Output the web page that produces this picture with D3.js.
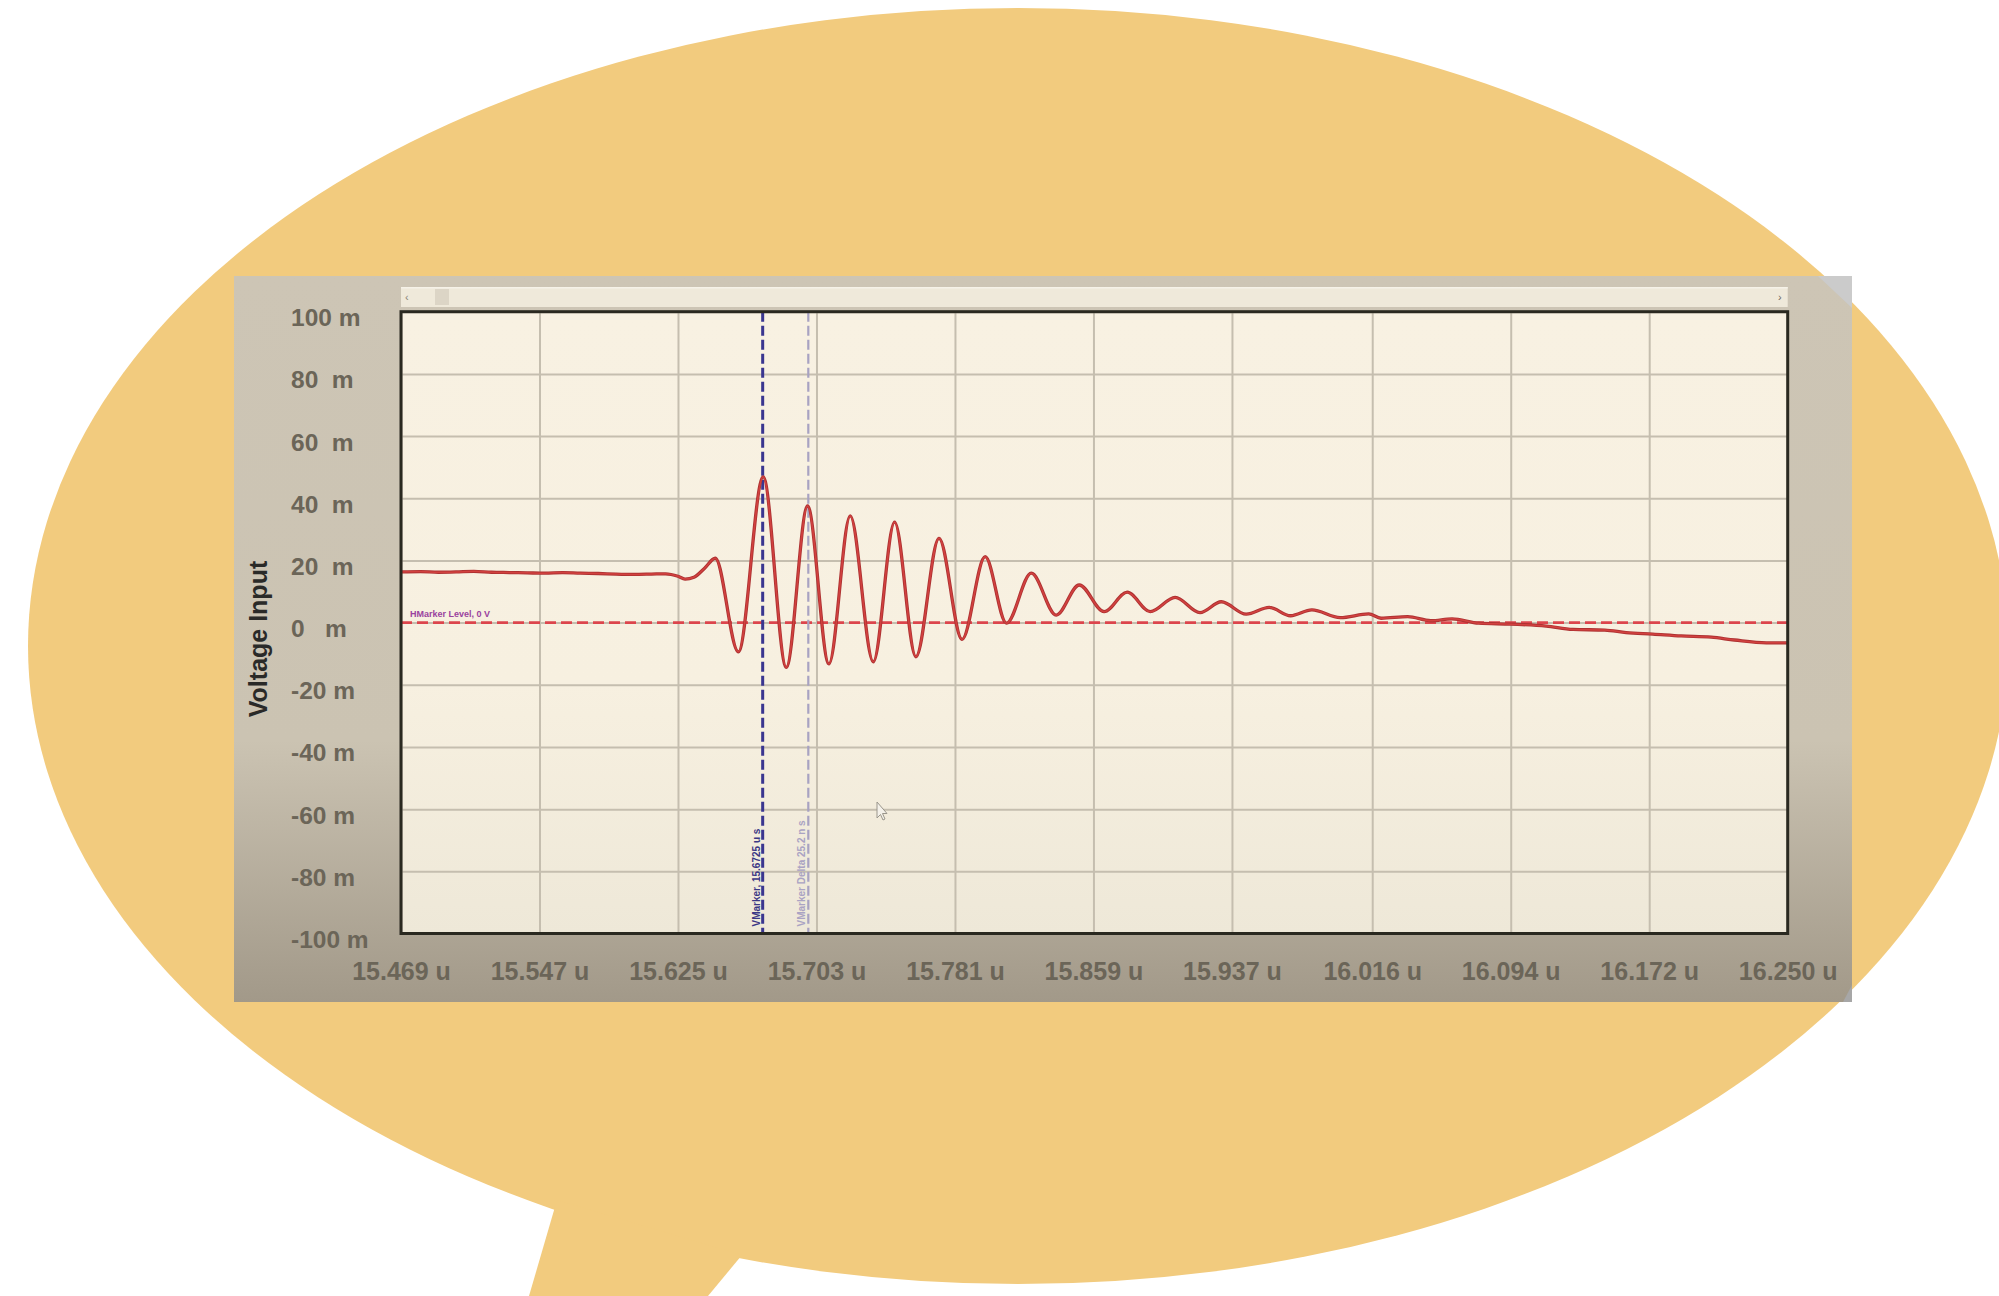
<!DOCTYPE html>
<html><head><meta charset="utf-8">
<script src="https://cdn.jsdelivr.net/npm/d3@7"></script>
<style>
html,body{margin:0;padding:0;background:#fff;}
svg{display:block;}
text{font-family:"Liberation Sans",Arial,sans-serif;}
</style></head>
<body>
<svg id="chart" width="1999" height="1296"></svg>
<script>
// ---------- data ----------
const xTicks = [15.469, 15.547, 15.625, 15.703, 15.781, 15.859, 15.937, 16.016, 16.094, 16.172, 16.250];
const xTickLabels = ["15.469 u","15.547 u","15.625 u","15.703 u","15.781 u","15.859 u","15.937 u","16.016 u","16.094 u","16.172 u","16.250 u"];
const yTicks = [100, 80, 60, 40, 20, 0, -20, -40, -60, -80, -100];
const yTickLabels = ["100 m","80  m","60  m","40  m","20  m","0   m","-20 m","-40 m","-60 m","-80 m","-100 m"];
const yAxisTitle = "Voltage Input";
// time (u s) and voltage (m V) of the trace
const timeU = [15.469,15.480,15.490,15.500,15.510,15.520,15.530,15.540,15.550,15.560,15.570,15.580,15.590,15.600,15.610,15.618,15.625,15.629,15.634,15.640,
  15.646,15.659,15.673,15.686,15.698,15.710,15.722,15.735,15.747,15.759,15.772,15.785,15.798,15.810,15.824,15.838,15.851,15.865,15.878,15.891,
  15.905,15.919,15.931,15.945,15.958,15.970,15.982,15.998,16.014,16.021,16.036,16.049,16.061,16.076,16.094,16.114,16.129,16.147,16.159,16.174,
  16.190,16.207,16.220,16.238,16.250];
const voltM = [16.3,16.4,16.2,16.3,16.5,16.2,16.1,16.0,15.9,16.1,15.9,15.8,15.6,15.5,15.6,15.7,14.9,14.0,14.6,17.5,
  20.7,-9.4,46.9,-14.4,37.5,-13.3,34.3,-12.6,32.3,-11.0,27.1,-5.4,21.2,-0.2,15.9,2.4,12.1,3.5,9.8,3.5,
  8.1,3.2,6.7,2.7,4.9,2.2,4.1,1.6,2.8,1.4,1.9,0.6,1.2,-0.2,-0.5,-1.1,-2.2,-2.4,-3.2,-3.7,
  -4.3,-4.7,-5.6,-6.5,-6.5];
const vMarkers = [15.6727, 15.6984];
const vMarkerLabels = ["VMarker, 15.6725 u s", "VMarker Delta 25.2 n s"];
const hMarkerLevel = 0;
const hMarkerLabel = "HMarker Level, 0 V";

// ---------- layout ----------
const svg = d3.select("#chart");
const P = {l:401, t:311.7, r:1787.7, b:933.5};
const x = d3.scaleLinear().domain([xTicks[0], xTicks[xTicks.length-1]]).range([P.l, P.r]);
const y = d3.scaleLinear().domain([-100, 100]).range([P.b, P.t]);

const defs = svg.append("defs");
const pg = defs.append("linearGradient").attr("id","panelGrad").attr("x1",0).attr("y1",0).attr("x2",0).attr("y2",1);
pg.append("stop").attr("offset","0").attr("stop-color","#cdc5b5");
pg.append("stop").attr("offset","0.64").attr("stop-color","#cbc3b2");
pg.append("stop").attr("offset","1").attr("stop-color","#a29989");
const bg = defs.append("linearGradient").attr("id","plotGrad").attr("x1",0).attr("y1",0).attr("x2",0).attr("y2",1);
bg.append("stop").attr("offset","0").attr("stop-color","#f8f1e2");
bg.append("stop").attr("offset","0.6").attr("stop-color","#f7f0e0");
bg.append("stop").attr("offset","1").attr("stop-color","#eee8d8");

// speech bubble
svg.append("ellipse").attr("cx",1018).attr("cy",646).attr("rx",990).attr("ry",638).attr("fill","#f2cb7e");
svg.append("path").attr("d","M557,1200 L529,1296 L708,1296 L742,1255 Z").attr("fill","#f2cb7e");

// panel
svg.append("rect").attr("x",234).attr("y",276).attr("width",1618).attr("height",726).attr("fill","url(#panelGrad)");
svg.append("path").attr("d","M1818,276 L1852,276 L1852,308 Z").attr("fill","#cbcbcb");
svg.append("path").attr("d","M1852,985 L1852,1002 L1843,1002 Z").attr("fill","#a7a7a7");

// scrollbar
svg.append("rect").attr("x",P.l).attr("y",287).attr("width",P.r-P.l).attr("height",20).attr("fill","#efe9da");
svg.append("rect").attr("x",P.l).attr("y",287).attr("width",P.r-P.l).attr("height",1.5).attr("fill","#f6f2e8");
svg.append("rect").attr("x",435).attr("y",289).attr("width",14).attr("height",16).attr("fill","#dcd5c6");
svg.append("text").attr("x",405).attr("y",301).attr("font-size",11).attr("fill","#8a8478").text("‹");
svg.append("text").attr("x",1778).attr("y",301).attr("font-size",11).attr("fill","#6e685c").text("›");

// plot background
svg.append("rect").attr("x",P.l).attr("y",P.t).attr("width",P.r-P.l).attr("height",P.b-P.t).attr("fill","url(#plotGrad)");

// grid
const grid = svg.append("g");
grid.append("g").attr("transform",`translate(0,${P.b})`)
  .call(d3.axisBottom(x).tickValues(xTicks).tickSize(-(P.b-P.t)).tickFormat(""))
  .call(g=>{g.select(".domain").remove(); g.selectAll("line").attr("stroke","#c5beaf").attr("stroke-width",2);});
grid.append("g").attr("transform",`translate(${P.l},0)`)
  .call(d3.axisLeft(y).tickValues(yTicks).tickSize(-(P.r-P.l)).tickFormat(""))
  .call(g=>{g.select(".domain").remove(); g.selectAll("line").attr("stroke","#c5beaf").attr("stroke-width",2);});

// x labels
const xa = svg.append("g").attr("transform",`translate(0,${P.b})`)
  .call(d3.axisBottom(x).tickValues(xTicks).tickSize(0).tickPadding(0).tickFormat((d,i)=>xTickLabels[i]));
xa.select(".domain").remove();
xa.selectAll("text").attr("y",46.5).attr("dy",null).attr("font-size",25).attr("font-weight","bold")
  .attr("fill","#6b6558").attr("font-family","Liberation Sans, Arial, sans-serif");

// y labels
const ya = svg.append("g").attr("transform",`translate(${P.l},0)`)
  .call(d3.axisLeft(y).tickValues(yTicks).tickSize(0).tickFormat((d,i)=>yTickLabels[i]));
ya.select(".domain").remove();
ya.selectAll("text").attr("x",291-P.l).attr("dy",null).attr("y",14).attr("text-anchor","start")
  .attr("font-size",24.5).attr("font-weight","bold").attr("fill","#6b6558").style("white-space","pre")
  .attr("font-family","Liberation Sans, Arial, sans-serif");

// y title
svg.append("text").attr("transform","translate(267,639) rotate(-90)").attr("text-anchor","middle")
  .attr("font-size",25).attr("font-weight","bold").attr("fill","#2a2a28").text(yAxisTitle);

// horizontal marker
svg.append("line").attr("x1",P.l).attr("x2",P.r).attr("y1",y(hMarkerLevel)).attr("y2",y(hMarkerLevel))
  .attr("stroke","#dc454c").attr("stroke-width",2.6).attr("stroke-dasharray","11,5");
svg.append("text").attr("x",410).attr("y",y(hMarkerLevel)-6).attr("font-size",9).attr("font-weight","bold")
  .attr("fill","#9a429e").text(hMarkerLabel);

// vertical markers
const vmColors = ["#3a3690","#a8a2c2"];
const vmWidths = [3, 2.2];
vMarkers.forEach((t,i)=>{
  svg.append("line").attr("x1",x(t)).attr("x2",x(t)).attr("y1",P.t).attr("y2",P.b)
    .attr("stroke",vmColors[i]).attr("stroke-width",vmWidths[i]).attr("stroke-dasharray","10,4");
  svg.append("text").attr("transform",`translate(${x(t)-3},${P.b-7}) rotate(-90)`)
    .attr("font-size",10).attr("font-weight","bold").attr("fill",i===0?"#3b3785":"#aaa3c3").text(vMarkerLabels[i]);
});

// trace
const pts = timeU.map((t,i)=>[t, voltM[i]]);
const line = d3.line().x(d=>x(d[0])).y(d=>y(d[1])).curve(d3.curveMonotoneX);
svg.append("path").datum(pts).attr("d",line).attr("fill","none").attr("stroke","#ad3232").attr("stroke-width",3.3).attr("stroke-linejoin","round");
svg.append("path").datum(pts).attr("d",line).attr("fill","none").attr("stroke","#d2413f").attr("stroke-width",1.5).attr("stroke-linejoin","round");

// plot frame
svg.append("rect").attr("x",P.l).attr("y",P.t).attr("width",P.r-P.l).attr("height",P.b-P.t)
  .attr("fill","none").attr("stroke","#2a2920").attr("stroke-width",3);

// mouse cursor
svg.append("path").attr("d","M877,802 L877,818 L880.5,814.5 L883,820 L885,819 L882.5,813.5 L887,813.5 Z")
  .attr("fill","#f4f1ea").attr("stroke","#9a968c").attr("stroke-width",1);
</script>
</body></html>
